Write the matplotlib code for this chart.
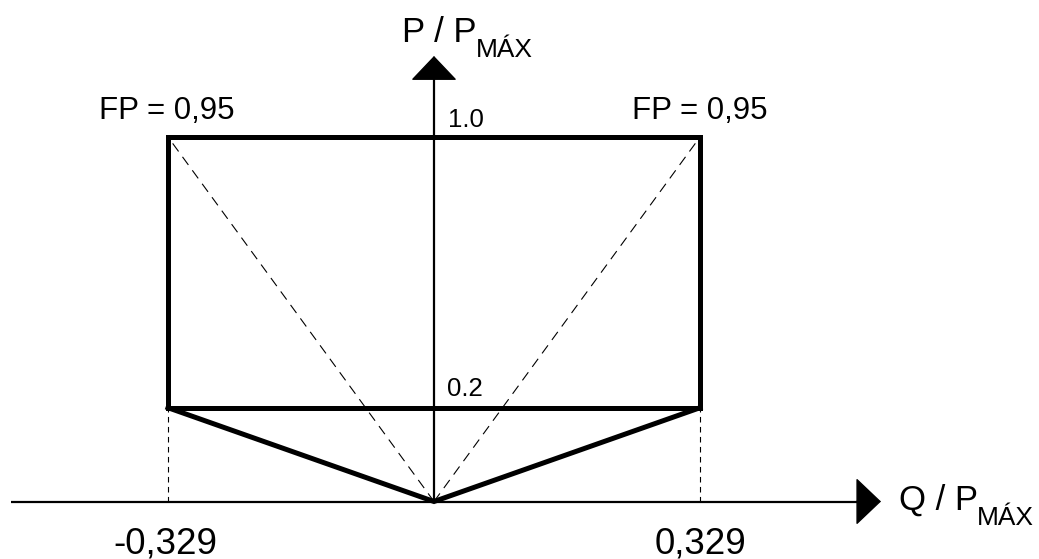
import matplotlib.pyplot as plt
import numpy as np

plt.rcParams['font.family'] = ['Liberation Sans', 'DejaVu Sans']

# reactive power limits (Q / Pmax) and active power levels (P / Pmax)
q_lim = [-0.329, 0.329]
p_min = 0.2
p_max = 1.0
fp_label = "FP = 0,95"
q_labels = ["-0,329", "0,329"]
p_labels = ["0.2", "1.0"]

# the drawing is a schematic: 0..0.2 band is stretched relative to 0.2..1.0
s02 = 0.2573
x0, y0, sx, sy = 434, 501.5, 808.5, 364.5  # origin in pixels and pixels per unit


def fwd(p):
    p = np.asarray(p, dtype=float)
    return np.where(p < p_min, p * s02 / p_min, s02 + (p - p_min) * (1 - s02) / (1 - p_min))


def inv(s):
    s = np.asarray(s, dtype=float)
    return np.where(s < s02, s * p_min / s02, p_min + (s - s02) * (1 - p_min) / (1 - s02))


def px(x, y):
    # pixel position (from top-left) to data coordinates, for placing labels
    return (x - x0) / sx, float(inv((y0 - y) / sy))


fig = plt.figure(figsize=(10.39, 5.59), dpi=100)
ax = fig.add_axes([0, 0, 1, 1])
ax.set_yscale('function', functions=(fwd, inv))
ax.set_xlim(px(0, 0)[0], px(1039, 0)[0])
ax.set_ylim(px(0, 559)[1], px(0, 0)[1])
ax.axis('off')

x_start = px(11, 0)[0]
x_end = px(857, 0)[0]
x_tip = px(881, 0)[0]
y_end = px(0, 79)[1]
y_tip = px(0, 56)[1]

# axes with arrowheads
ax.plot([x_start, x_end], [0, 0], color='black', lw=1.6, solid_capstyle='butt')
ax.plot([0, 0], [0, y_end], color='black', lw=1.6, solid_capstyle='butt')
ax.annotate('', xy=(x_tip, 0), xytext=(x_end - 0.001, 0),
            arrowprops=dict(arrowstyle='-|>,head_length=1.0,head_width=0.95',
                            mutation_scale=16.5, color='black', lw=1,
                            shrinkA=0, shrinkB=0))
ax.annotate('', xy=(0, y_tip), xytext=(0, y_end - 0.001),
            arrowprops=dict(arrowstyle='-|>,head_length=1.0,head_width=0.95',
                            mutation_scale=16, color='black', lw=1,
                            shrinkA=0, shrinkB=0))

# capability region
ax.plot([q_lim[0], q_lim[0], q_lim[1], q_lim[1]], [p_min, p_max, p_max, p_min],
        color='black', lw=3.6, solid_joinstyle='miter')
ax.plot([q_lim[0], q_lim[1]], [p_min, p_min], color='black', lw=3.6)
ax.plot([q_lim[0], 0, q_lim[1]], [p_min, 0, p_min], color='black', lw=3.6,
        solid_joinstyle='miter')

# power factor lines
for q in q_lim:
    ax.plot([0, q], [0, p_max], color='black', lw=0.8, dashes=(9, 6))
    ax.plot([q, q], [0, p_min], color='black', lw=0.8, dashes=(5, 4))

# labels
ax.text(*px(167, 119), fp_label, fontsize=22.5, ha='center', va='baseline')
ax.text(*px(700, 119), fp_label, fontsize=22.5, ha='center', va='baseline')
ax.text(*px(448, 127), p_labels[1], fontsize=18.5, ha='left', va='baseline')
ax.text(*px(447, 396), p_labels[0], fontsize=18.5, ha='left', va='baseline')
ax.text(*px(165, 553), q_labels[0], fontsize=26.5, ha='center', va='baseline')
ax.text(*px(700, 553), q_labels[1], fontsize=26.5, ha='center', va='baseline')

# axis titles with large subscripts
for name, (bx, by) in [('P / P', (402, 42)), ('Q / P', (899, 510))]:
    t = ax.text(*px(bx, by), name, fontsize=25, ha='left', va='baseline')
    ax.annotate('MÁX', xy=(1, px(0, by + 15)[1]), xycoords=(t, 'data'),
                xytext=(-0.5, 0), textcoords='offset points',
                fontsize=19, ha='left', va='baseline')

plt.savefig('out.png', dpi=100)
